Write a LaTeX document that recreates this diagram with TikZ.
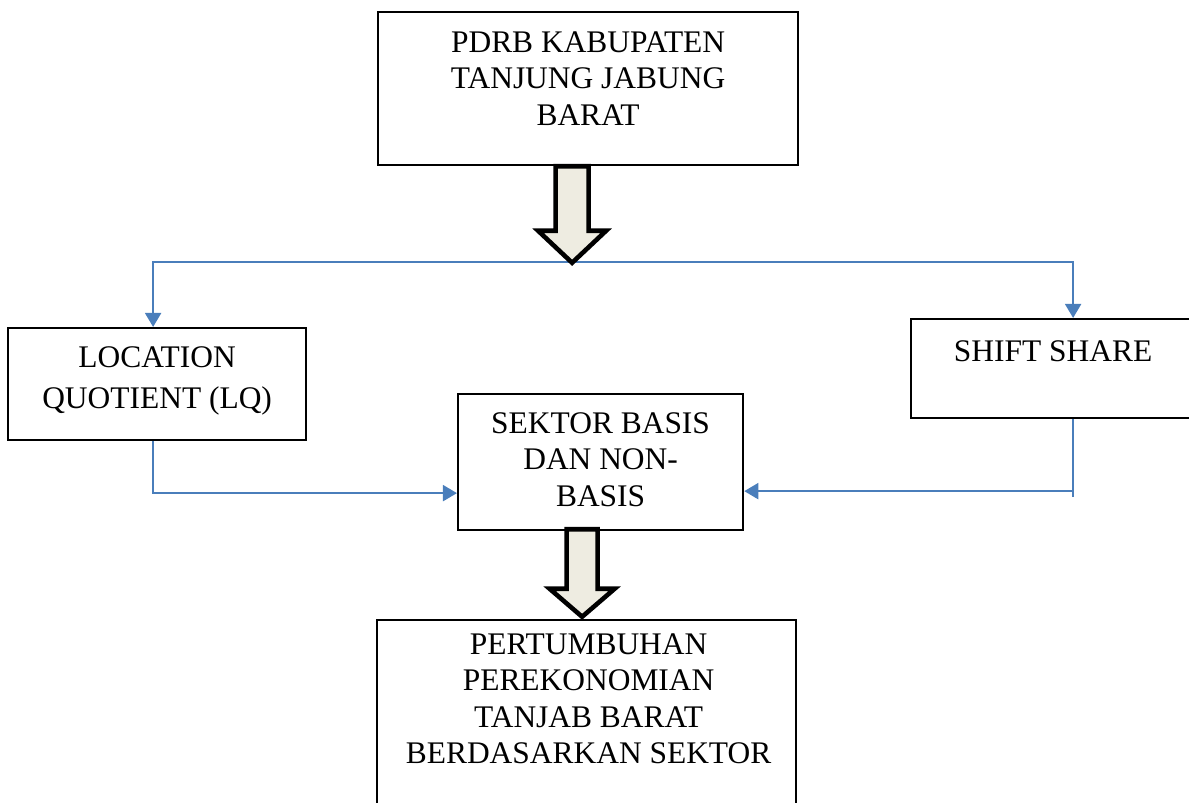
\documentclass[tikz,border=0pt]{standalone}
\usepackage{fontspec}
\setmainfont{Liberation Serif}
\usetikzlibrary{arrows.meta}

\definecolor{flowblue}{RGB}{74,126,187}
\definecolor{arrowfill}{RGB}{238,236,225}

\tikzset{
	box/.style={draw, line width=1.3pt, inner sep=0pt, anchor=north west},
	boxtext/.style={inner sep=0pt, anchor=north, align=center,
		font=\fontsize{17.9pt}{20.8pt}\selectfont},
	flow/.style={flowblue, line width=1.5pt, -{Triangle[length=8pt,width=9pt]}},
	flowline/.style={flowblue, line width=1.5pt},
	bigarrow/.style={draw=black, fill=arrowfill, line width=2.6pt, miter limit=10},
}

\begin{document}
\begin{tikzpicture}[x=0.02cm, y=-0.02cm]
		
		\useasboundingbox (0,0) rectangle (1189,802);
		
		% boxes
		\node[box, minimum width=8.4cm, minimum height=3.06cm] (pdrb) at (377,11) {};
		\node[box, minimum width=5.96cm, minimum height=2.24cm] (lq) at (7,327) {};
		\node[box, minimum width=6.48cm, minimum height=1.98cm] (shift) at (910,318) {};
		\node[box, minimum width=5.7cm, minimum height=2.72cm] (sektor) at (457,393) {};
		\node[box, minimum width=8.38cm, minimum height=4.3cm] (growth) at (376,619) {};
		
		\node[boxtext] (pdrb-t) at ([yshift=-0.4cm]pdrb.north)
			{PDRB KABUPATEN\\TANJUNG JABUNG\\BARAT};
		\node[boxtext, font=\fontsize{17.9pt}{23.3pt}\selectfont] (lq-t) at ([yshift=-0.38cm]lq.north)
			{LOCATION\\QUOTIENT (LQ)};
		\node[boxtext] (shift-t) at ([xshift=-0.4cm,yshift=-0.44cm]shift.north)
			{SHIFT SHARE};
		\node[boxtext] (sektor-t) at ([yshift=-0.38cm]sektor.north)
			{SEKTOR BASIS\\DAN NON-\\BASIS};
		\node[boxtext] (growth-t) at ([xshift=0.04cm,yshift=-0.28cm]growth.north)
			{PERTUMBUHAN\\PEREKONOMIAN\\TANJAB BARAT\\BERDASARKAN SEKTOR};
		
		\coordinate (split) at (571,262);
		
		% blue connectors
		\draw[flow] (split) -| ([xshift=-0.08cm]lq.north);
		\draw[flow] (split) -| (shift.north);
		\draw[flow] ([xshift=-0.08cm]lq.south) |- ([yshift=-0.62cm]sektor.west);
		\draw[flowline] (shift.south) -- ++(0,78);
		\draw[flow] (shift.south) |- ([yshift=-0.58cm]sektor.east);
		
		% block arrows
		\draw[bigarrow] (pdrb.south) ++(-32.5,0) -- ++(0,64.5) -- ++(-17.5,0)
			-- ++(34,32) -- ++(34,-32) -- ++(-17.5,0) -- ++(0,-64.5) -- cycle;
		\draw[bigarrow] (sektor.south) ++(-34,-2) -- ++(0,59.5) -- ++(-17,0)
			-- ++(32.5,28) -- ++(32.5,-28) -- ++(-17,0) -- ++(0,-59.5) -- cycle;
		
	\end{tikzpicture}
\end{document}
